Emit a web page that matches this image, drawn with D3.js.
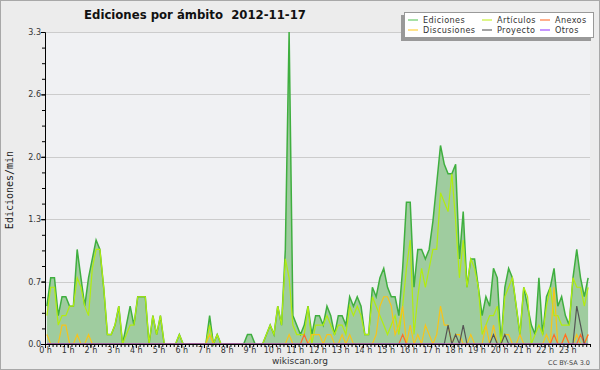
<!DOCTYPE html>
<html><head><meta charset="utf-8">
<script src="https://cdn.jsdelivr.net/npm/d3@7"></script>
<style>body{margin:0;background:#fff}svg{display:block}</style>
</head><body><svg id="c" width="600" height="370"></svg>
<script>
const title = "Ediciones por ámbito  2012-11-17";
const yAxisLabel = "Ediciones/min";
const footer = "wikiscan.org";
const license = "CC BY-SA 3.0";
const yMax = 3.3;
const yTickValues = [0, 0.66, 1.32, 1.98, 2.64, 3.3];
const yTickLabels = ["0.0", "0.7", "1.3", "2.0", "2.6", "3.3"];
const hourLabels = ["0 h","1 h","2 h","3 h","4 h","5 h","6 h","7 h","8 h","9 h","10 h","11 h","12 h","13 h","14 h","15 h","16 h","17 h","18 h","19 h","20 h","21 h","22 h","23 h"];
const slotMinutes = 10;

const ediciones = [
0.4,0.7,0.7,0.3,0.5,0.5,0.4,0.4,1.0,0.7,
0.4,0.7,0.9,1.1,1.0,0.6,0.1,0.1,0.2,0.4,
0,0.2,0.4,0.2,0.5,0.5,0.5,0,0.3,0.1,
0.3,0,0,0,0,0.1,0,0,0,0,
0,0,0,0.3,0,0.1,0,0,0,0,
0,0,0,0.1,0.1,0,0,0,0.1,0.2,
0.1,0.4,0.2,1.0,3.3,0.3,0.2,0.1,0.2,0.4,
0.1,0.3,0.3,0.2,0.4,0.3,0.1,0.3,0.3,0.2,
0.5,0.4,0.5,0.4,0.1,0.1,0.6,0.5,0.7,0.8,
0.6,0.5,0.5,0.3,0.8,1.5,1.5,0.6,1.0,1.0,
0.9,1.0,1.3,1.7,2.1,1.9,1.8,1.8,1.9,0.9,
1.4,0.6,0.9,0.9,0.6,0.3,0.5,0.4,0.8,0.7,
0,0.6,0.8,0.7,0.4,0.1,0.6,0.4,0.2,0.1,
0.7,0.1,0.5,0.6,0.8,0.4,0.5,0.3,0.2,0.7,
1.0,0.7,0.5,0.7];
const articulos = [
0.3,0.6,0.6,0.2,0.3,0.3,0.4,0.4,0.7,0.6,
0.4,0.3,0.8,1.0,1.0,0.6,0.1,0.1,0.2,0.4,
0,0.1,0.2,0.2,0.5,0.5,0.5,0,0.3,0.1,
0.3,0,0,0,0,0.1,0,0,0,0,
0,0,0,0.2,0,0.1,0,0,0,0,
0,0,0,0,0,0,0,0,0.1,0.2,
0.1,0.4,0.2,0.9,0.7,0.2,0.1,0.1,0.1,0.4,
0,0.2,0.2,0.2,0.3,0.2,0.1,0.2,0.2,0.1,
0.4,0.3,0.4,0.3,0.1,0.1,0.5,0.4,0.3,0.2,
0.1,0.2,0.3,0.1,0.4,0.8,1.1,0.1,0.5,0.8,
0.6,0.8,1.0,1.0,1.6,1.5,1.4,1.8,1.3,0.7,
1.1,0.6,0.9,0.8,0.6,0.1,0.2,0.3,0.3,0.4,
0,0.5,0.6,0.7,0.4,0.1,0.6,0.5,0,0.1,
0.2,0.1,0.4,0.6,0.3,0.3,0.2,0.2,0.2,0.7,
0.6,0.6,0.4,0.6];
const discusiones = [
0.1,0,0,0,0.2,0.2,0,0,0.1,0,
0,0.1,0,0,0,0,0,0,0,0,
0,0,0,0,0,0,0,0,0,0,
0,0,0,0,0,0,0,0,0,0,
0,0,0,0.1,0,0,0,0,0,0,
0,0,0,0,0,0,0,0,0,0,
0,0,0,0,0.1,0,0,0,0,0,
0.1,0.1,0.1,0,0.1,0.1,0,0,0.1,0,
0.1,0,0,0,0,0,0,0.1,0.4,0.5,
0.5,0.4,0.1,0.2,0.4,0,0.2,0,0.1,0,
0.2,0.1,0,0.1,0.4,0.2,0.2,0,0.1,0.1,
0,0,0.1,0,0,0,0.2,0,0.2,0,
0,0.1,0.1,0,0,0.1,0,0,0,0,
0,0,0.1,0,0.6,0,0,0.1,0,0,
0.1,0,0,0.1];
const anexos = [
0,0,0,0,0,0,0,0,0,0,
0,0,0,0,0,0,0,0,0,0,
0,0,0,0,0,0,0,0,0,0,
0,0,0,0,0,0,0,0,0,0,
0,0,0,0,0,0,0,0,0,0,
0,0,0,0,0,0,0,0,0,0,
0,0,0,0,0,0,0,0,0.1,0,
0,0,0,0,0,0,0,0,0,0,
0,0,0,0,0,0,0,0,0,0,
0,0,0,0,0.1,0,0,0,0,0,
0,0,0,0,0,0,0,0,0,0,
0,0,0,0,0,0,0,0,0,0,
0,0,0,0,0,0,0,0,0,0,
0,0,0,0,0.1,0,0,0.1,0,0,
0,0.1,0,0.1];
const proyecto = [
0,0,0,0,0,0,0,0,0,0,
0,0,0,0,0,0,0,0,0,0,
0,0,0,0,0,0,0,0,0,0,
0,0,0,0,0,0,0,0,0,0,
0,0,0,0,0,0,0,0,0,0,
0,0,0,0,0,0,0,0,0,0,
0,0,0,0,0,0,0,0,0,0,
0,0,0,0,0,0,0,0,0,0,
0,0,0,0,0,0,0,0,0,0,
0,0,0,0,0,0,0,0,0,0,
0,0,0,0,0,0,0.2,0,0.1,0,
0.2,0,0,0,0,0,0,0,0.1,0,
0,0.1,0,0,0,0,0,0,0,0,
0,0,0,0,0,0,0,0,0,0,
0.4,0.2,0,0];
const otros = new Array(144).fill(0);

const seriesNames = ["Ediciones","Artículos","Anexos","Discusiones","Proyecto","Otros"];
const seriesColors = ["#3faf3f","#b2ec10","#ff6a2a","#f7c41a","#555555","#9a44ee"];
const legendColors = ["#6ccc6c","#c6f03a","#ff7a40","#ffd040","#666666","#a050ff"];
const seriesData = [ediciones, articulos, anexos, discusiones, proyecto, otros];

const svg = d3.select("#c");
const L = 45, R = 590, T = 32, B = 344;
const x = d3.scaleLinear().domain([0, 1440]).range([L, R]);
const y = d3.scaleLinear().domain([0, yMax]).range([B, T]);
const font = "'DejaVu Sans', sans-serif";

svg.append("rect").attr("x",0.5).attr("y",0.5).attr("width",599).attr("height",369)
  .attr("fill","#ececec").attr("stroke","#a8a8a8");
svg.append("rect").attr("x",L).attr("y",T).attr("width",R-L).attr("height",B-T).attr("fill","#f0f1f3");

// grid
svg.append("g").selectAll("line").data(yTickValues.slice(1)).join("line")
  .attr("x1",L).attr("x2",R).attr("y1",d=>Math.round(y(d))+0.5).attr("y2",d=>Math.round(y(d))+0.5)
  .attr("stroke","#cccccc").attr("stroke-width",1);

const px = (d,i) => x(i*slotMinutes + slotMinutes/2);
const area = d3.area().x(px).y0(y(0)).y1(d=>y(d));
const line = d3.line().x(px).y(d=>y(d));

svg.append("path").datum(ediciones).attr("d",area).attr("fill","#9fcc9f");
const drawOrder = [0,1,3,2,4,5];
drawOrder.forEach(k => {
  svg.append("path").datum(seriesData[k]).attr("d",line).attr("fill","none")
    .attr("stroke",seriesColors[k]).attr("stroke-width", k===0?1.5:1.2).attr("stroke-linejoin","miter");
});

// axes
const xAxis = svg.append("g").attr("transform",`translate(0,${B})`)
  .call(d3.axisBottom(x).tickValues(d3.range(24).map(h=>h*60)).tickFormat((d,i)=>hourLabels[i]).tickSize(4).tickSizeOuter(0));
const xMinor = svg.append("g").attr("transform",`translate(0,${B})`)
  .call(d3.axisBottom(x).tickValues(d3.range(0,1441,slotMinutes)).tickFormat("").tickSize(3).tickSizeOuter(0));
const yAxis = svg.append("g").attr("transform",`translate(${L},0)`)
  .call(d3.axisLeft(y).tickValues(yTickValues).tickFormat((d,i)=>yTickLabels[i]).tickSize(4).tickSizeOuter(0));
const yMinor = svg.append("g").attr("transform",`translate(${L},0)`)
  .call(d3.axisLeft(y).tickValues(d3.range(21).map(k=>k*yMax/20)).tickFormat("").tickSize(3).tickSizeOuter(0));
[xAxis,xMinor,yAxis,yMinor].forEach(g=>{
  g.selectAll("path,line").attr("stroke","#000");
  g.selectAll("text").attr("font-family",font).attr("font-size",8).attr("fill","#333");
});
xAxis.selectAll("text").attr("dy","0.6em").attr("y",4);
yAxis.selectAll("text").attr("x",-4).attr("dy","0.32em");

// title
svg.append("text").attr("x",195).attr("y",19).attr("text-anchor","middle")
  .style("white-space","pre")
  .attr("font-family","'DejaVu Sans Condensed', 'DejaVu Sans', sans-serif").attr("font-weight","bold")
  .attr("font-size",13).attr("fill","#111").text(title);

// y label
svg.append("text").attr("transform","translate(13,190) rotate(-90)").attr("text-anchor","middle")
  .attr("font-family","'DejaVu Sans Mono', monospace").attr("font-size",10).attr("fill","#222").text(yAxisLabel);

svg.append("text").attr("x",300).attr("y",364).attr("text-anchor","middle")
  .attr("font-family",font).attr("font-size",9).attr("fill","#333").text(footer);
svg.append("text").attr("x",590).attr("y",365).attr("text-anchor","end")
  .attr("font-family",font).attr("font-size",6.5).attr("fill","#444").text(license);

// legend
const lg = svg.append("g");
lg.append("rect").attr("x",401).attr("y",15).attr("width",190).attr("height",26).attr("fill","#999");
lg.append("rect").attr("x",404.5).attr("y",12.5).attr("width",189).attr("height",25).attr("fill","#fff").attr("stroke","#999");
const colX = [408, 482, 540];
seriesNames.forEach((n,k)=>{
  const col = k%3, row = Math.floor(k/3);
  const yy = 20 + row*10;
  lg.append("line").attr("x1",colX[col]).attr("x2",colX[col]+10).attr("y1",yy).attr("y2",yy)
    .attr("stroke",legendColors[k]).attr("stroke-width",1.2);
  lg.append("text").attr("x",colX[col]+15).attr("y",yy+3)
    .attr("font-family","'DejaVu Sans Condensed', 'DejaVu Sans', sans-serif").attr("font-size",9)
    .attr("letter-spacing",0.4).attr("fill","#333").text(n);
});
</script></body></html>
